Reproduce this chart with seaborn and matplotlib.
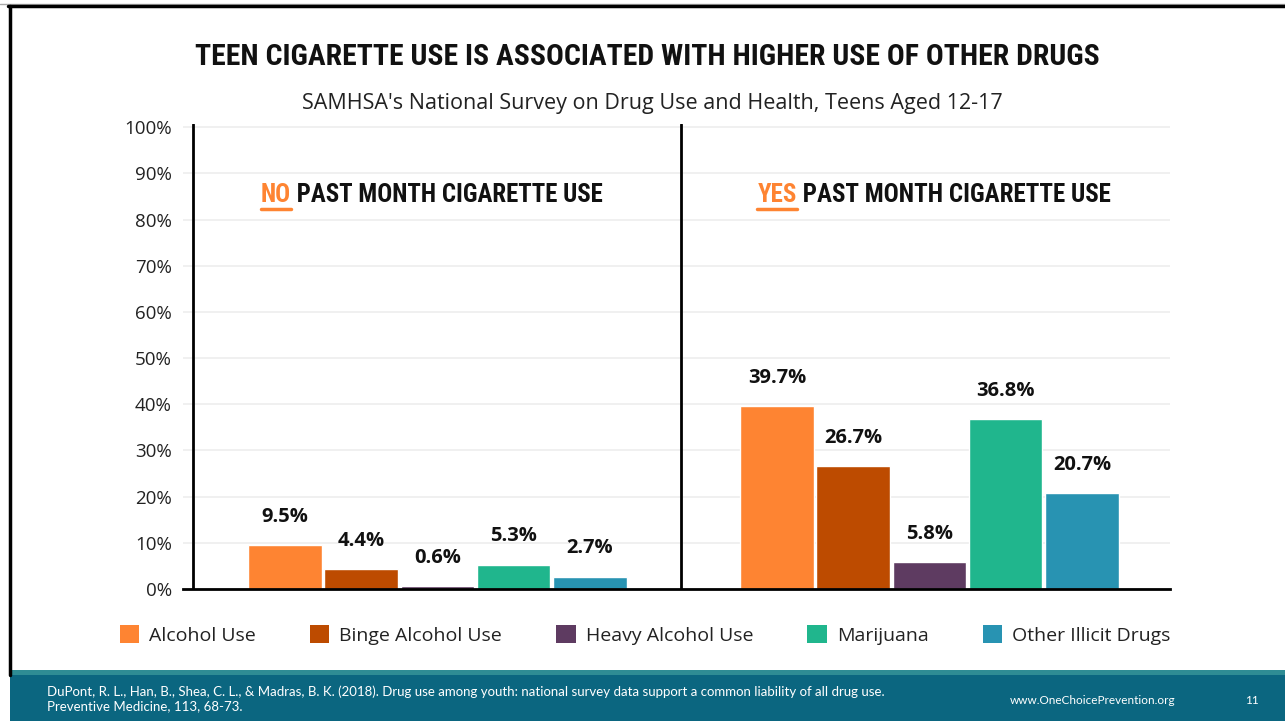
import matplotlib
matplotlib.use("Agg")
import matplotlib.pyplot as plt
from matplotlib import font_manager as fm
from matplotlib.patches import Rectangle, Patch
from matplotlib.lines import Line2D
import seaborn as sns
import pandas as pd

groups = ["No", "Yes"]
drugs = ["Alcohol Use", "Binge Alcohol Use", "Heavy Alcohol Use", "Marijuana", "Other Illicit Drugs"]
no_values = [9.5, 4.4, 0.6, 5.3, 2.7]
yes_values = [39.7, 26.7, 5.8, 36.8, 20.7]
colors = ["#FE8432", "#BD4B00", "#5E3B61", "#20B68D", "#2893B2"]
yticks = list(range(0, 101, 10))

title = "TEEN CIGARETTE USE IS ASSOCIATED WITH HIGHER USE OF OTHER DRUGS"
subtitle = "SAMHSA's National Survey on Drug Use and Health, Teens Aged 12-17"
panel_heads = [("NO", " PAST MONTH CIGARETTE USE"), ("YES", " PAST MONTH CIGARETTE USE")]
citation = ("DuPont, R. L., Han, B., Shea, C. L., & Madras, B. K. (2018). Drug use among youth: national survey data support a common liability of all drug use.\n"
            "Preventive Medicine, 113, 68-73.")
website = "www.OneChoicePrevention.org"
page = "11"

sns.set_theme(style="white")
available = {f.name for f in fm.fontManager.ttflist}
def pick(cands):
    for c in cands:
        if c in available:
            return c
    return "DejaVu Sans"
cond = pick(["Liberation Sans Narrow", "DejaVu Sans Condensed", "Roboto Condensed", "Liberation Sans"])
body = pick(["Open Sans", "Lato", "DejaVu Sans"])
small = pick(["Lato", "Open Sans"])
plt.rcParams["font.family"] = [body, "DejaVu Sans"]

df = pd.DataFrame({
    "group": [g for g in groups for _ in drugs],
    "drug": drugs * 2,
    "value": no_values + yes_values,
})

W, H = 1285, 721
fig = plt.figure(figsize=(W / 100, H / 100), dpi=100)
ax = fig.add_axes([183 / W, 1 - 589 / H, (1170 - 183) / W, (589 - 124) / H])

sns.barplot(data=df, x="group", y="value", hue="drug", hue_order=drugs,
            palette=dict(zip(drugs, colors)), width=0.775, gap=0.035,
            ax=ax, legend=False, saturation=1)

ax.set_xlim(-0.517, 1.489)
ax.set_ylim(0, 100.7)
ax.set_yticks(yticks)
ax.set_yticklabels([f"{t}%" for t in yticks], fontsize=13.5, color="#222222")
ax.tick_params(axis="y", length=0, pad=8)
ax.set_xticks([])
ax.set_xlabel("")
ax.set_ylabel("")
ax.yaxis.grid(True, color="#EDEDED", linewidth=1.2)
ax.set_axisbelow(True)
for s in ["top", "right", "left"]:
    ax.spines[s].set_visible(False)
ax.spines["bottom"].set_color("black")
ax.spines["bottom"].set_linewidth(2)
ax.axvline(-0.497, color="black", lw=2)
ax.axvline(0.495, color="black", lw=2)

for cont, i in zip(ax.containers, range(len(drugs))):
    labels = [f"{no_values[i]}%", f"{yes_values[i]}%"]
    ax.bar_label(cont, labels=labels, padding=13, fontsize=14.5, fontweight="bold", color="#111111")

fig.canvas.draw()
rend = fig.canvas.get_renderer()

# Title (fit to reference width)
tt = fig.text(647 / W, 1 - 57 / H, title, ha="center", va="center", fontsize=30,
              fontweight="bold", family=cond, color="#111111")
tw = tt.get_window_extent(rend).width
tt.set_fontsize(30 * 900 / tw)
fig.text(652 / W, 1 - 104 / H, subtitle, ha="center", va="center", fontsize=15.5, color="#222222")

# panel headings with orange underlined first word
for (first, rest), cx, target in zip(panel_heads, [432, 934], [341, 352]):
    t1 = fig.text(0, 0, first, fontsize=22, fontweight="bold", family=cond, color="#FE8432",
                  va="center", ha="left")
    t2 = fig.text(0, 0, rest, fontsize=22, fontweight="bold", family=cond, color="#111111",
                  va="center", ha="left")
    w = t1.get_window_extent(rend).width + t2.get_window_extent(rend).width
    fs = 22 * target / w
    t1.set_fontsize(fs)
    t2.set_fontsize(fs)
    w1 = t1.get_window_extent(rend).width
    w2 = t2.get_window_extent(rend).width
    x0 = cx - (w1 + w2) / 2
    y = 1 - 195 / H
    t1.set_position((x0 / W, y))
    t2.set_position(((x0 + w1) / W, y))
    fig.add_artist(Line2D([x0 / W, (x0 + w1) / W], [1 - 209 / H] * 2, color="#FE8432", lw=2.5))

# legend
handles = [Patch(facecolor=c, edgecolor="none") for c in colors]
fig.legend(handles, drugs, loc="center", bbox_to_anchor=(645 / W, 1 - 635 / H), ncol=5,
           frameon=False, fontsize=14, handlelength=1.0, handleheight=1.0,
           handletextpad=0.5, columnspacing=2.8, labelcolor="#222222")

# footer
fig.add_artist(Rectangle((10 / W, 0), 1, 46 / H, transform=fig.transFigure, color="#0B6680", lw=0))
fig.add_artist(Rectangle((10 / W, 46 / H), 1, 5 / H, transform=fig.transFigure, color="#2E8C94", lw=0))
fig.text(47 / W, 1 - 699 / H, citation, ha="left", va="center", fontsize=9.5, color="white",
         family=small, linespacing=1.2)
fig.text(1093 / W, 1 - 701 / H, website, ha="center", va="center", fontsize=8.5, color="white", family=small)
fig.text(1252 / W, 1 - 701 / H, page, ha="center", va="center", fontsize=8.5, color="white", family=small)

# slide frame
fig.add_artist(Line2D([0, 1], [1 - 4 / H] * 2, color="#AAAAAA", lw=1))
fig.add_artist(Line2D([8 / W, 1], [1 - 6 / H] * 2, color="black", lw=2.5))
fig.add_artist(Line2D([9.5 / W] * 2, [1 - 6 / H, 46 / H], color="black", lw=2.5))

fig.savefig("out.png", dpi=100)
